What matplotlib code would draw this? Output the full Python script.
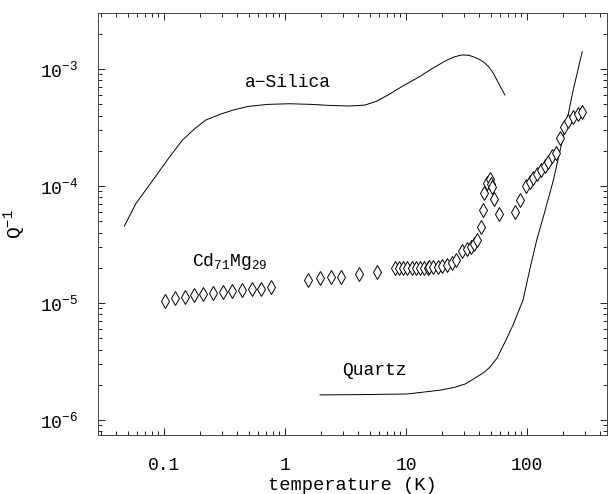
import matplotlib
matplotlib.use('Agg')
import matplotlib.pyplot as plt
from matplotlib.ticker import LogLocator, NullFormatter

# ---- data ----
silica_T = [0.047, 0.0587, 0.0848, 0.11, 0.142, 0.18, 0.221, 0.29, 0.372, 0.5, 0.724,
            1.1, 1.63, 2.4, 3.41, 4.58, 5.7, 7.10, 9.5, 12.9, 17.0, 21.7, 25.0, 29.0,
            33.0, 36.3, 40.9, 45.0, 48.8, 52.7, 58.0, 65.6]
silica_Q = [4.55e-5, 7.11e-5, 1.20e-4, 1.75e-4, 2.47e-4, 3.1e-4, 3.66e-4, 4.1e-4, 4.46e-4,
            4.8e-4, 4.99e-4, 5.05e-4, 4.99e-4, 4.88e-4, 4.83e-4, 4.92e-4, 5.3e-4, 6.0e-4,
            7.2e-4, 8.6e-4, 1.03e-3, 1.19e-3, 1.27e-3, 1.32e-3, 1.31e-3, 1.27e-3, 1.20e-3,
            1.12e-3, 1.03e-3, 9.2e-4, 7.6e-4, 6.0e-4]

quartz_T = [1.95, 4.17, 10.2, 19.1, 25.0, 30.7, 35.0, 40.9, 45.0, 49.5, 56.5, 65.8, 76.6,
            92.7, 105, 120.2, 140, 165, 185, 206, 240, 286]
quartz_Q = [1.64e-6, 1.65e-6, 1.67e-6, 1.80e-6, 1.9e-6, 2.03e-6, 2.2e-6, 2.43e-6, 2.6e-6,
            2.84e-6, 3.39e-6, 4.65e-6, 6.49e-6, 1.06e-5, 1.9e-5, 3.45e-5, 6.0e-5, 1.12e-4,
            1.9e-4, 3.01e-4, 6.5e-4, 1.41e-3]

cdmg_T = [0.102, 0.123, 0.148, 0.178, 0.210, 0.254, 0.305, 0.366, 0.441, 0.531, 0.638, 0.767,
          1.55, 1.93, 2.41, 2.90, 4.05, 5.81,
          8.11, 8.80, 9.50, 10.26, 11.15, 12.03, 13.05, 14.16, 15.28, 15.5, 16.62, 18.28, 19.95,
          21.95, 23.86, 25.88, 29.2, 31.7, 34.5, 36.7, 38.4, 41.7, 43.0, 44.4, 46.4, 49.5, 50.4,
          51.7, 53.7, 59.0,
          79.6, 87.6, 97.5, 104.9, 112.8, 120.9, 130.5, 139.6, 150.1, 161.9, 172.7, 187.5, 202.2,
          219.4, 241.3, 263.8, 285]
cdmg_Q = [1.05e-5, 1.10e-5, 1.13e-5, 1.17e-5, 1.19e-5, 1.22e-5, 1.25e-5, 1.27e-5, 1.29e-5, 1.31e-5,
          1.32e-5, 1.36e-5,
          1.57e-5, 1.63e-5, 1.66e-5, 1.68e-5, 1.76e-5, 1.85e-5,
          1.98e-5, 1.98e-5, 1.98e-5, 1.98e-5, 1.98e-5, 1.99e-5, 1.99e-5, 2.00e-5, 2.00e-5, 2.02e-5,
          2.02e-5, 2.03e-5, 2.07e-5, 2.12e-5, 2.21e-5, 2.33e-5, 2.80e-5, 2.91e-5, 3.03e-5, 3.19e-5,
          3.45e-5, 4.49e-5, 6.24e-5, 8.67e-5, 1.07e-4, 1.14e-4, 1.05e-4, 9.86e-5, 7.69e-5, 5.73e-5,
          6.0e-5, 7.67e-5, 1.0e-4, 1.08e-4, 1.17e-4, 1.27e-4, 1.37e-4, 1.48e-4, 1.62e-4, 1.79e-4,
          1.93e-4, 2.57e-4, 3.19e-4, 3.6e-4, 3.89e-4, 4.12e-4, 4.3e-4]

x_ticks = [0.1, 1, 10, 100]
x_tick_labels = ['0.1', '1', '10', '100']
y_ticks = [1e-6, 1e-5, 1e-4, 1e-3]
y_tick_labels = [r'$10^{-6}$', r'$10^{-5}$', r'$10^{-4}$', r'$10^{-3}$']

plt.rcParams.update({
    'font.family': ['Liberation Mono', 'DejaVu Sans Mono'],
    'mathtext.fontset': 'custom',
    'mathtext.rm': 'Liberation Mono',
    'mathtext.it': 'Liberation Mono:italic',
    'mathtext.bf': 'Liberation Mono:bold',
})

fig = plt.figure(figsize=(6.09, 4.94), dpi=100)
ax = fig.add_axes([0.1604, 0.1194, 0.8363, 0.8549])
ax.set_xscale('log')
ax.set_yscale('log')
ax.set_xlim(0.0283, 458)
ax.set_ylim(7.45e-7, 3.03e-3)

ax.plot(silica_T, silica_Q, color='black', lw=0.7)
ax.plot(quartz_T, quartz_Q, color='black', lw=0.7)
ax.plot(cdmg_T, cdmg_Q, linestyle='none', marker='d', ms=7, mfc='white',
        mec='black', mew=0.7)

ax.text(1.06, 7.6e-4, 'a\u2212Silica', ha='center', va='center', fontsize=13)
ax.text(5.52, 2.67e-6, 'Quartz', ha='center', va='center', fontsize=13)
ax.text(0.348, 2.25e-5, r'Cd$_{71}$Mg$_{29}$', ha='center', va='center', fontsize=13)

ax.set_xticks(x_ticks)
ax.set_xticklabels(x_tick_labels)
ax.set_yticks(y_ticks)
ax.set_yticklabels(y_tick_labels)
ax.xaxis.set_minor_locator(LogLocator(base=10, subs=range(2, 10), numticks=20))
ax.yaxis.set_minor_locator(LogLocator(base=10, subs=range(2, 10), numticks=20))
ax.xaxis.set_minor_formatter(NullFormatter())
ax.yaxis.set_minor_formatter(NullFormatter())

ax.tick_params(which='both', direction='in', top=True, right=True, width=0.7, colors='#222222')
ax.tick_params(which='major', length=5)
ax.tick_params(which='minor', length=3)
ax.tick_params(axis='x', which='major', pad=16, labelsize=13, labelcolor='black')
ax.tick_params(axis='y', which='major', pad=14, labelsize=13, labelcolor='black')

for s in ax.spines.values():
    s.set_linewidth(0.7)
    s.set_color('#444444')

ax.set_xlabel('temperature (K)', fontsize=13.5, va='center')
ax.xaxis.set_label_coords(0.5, -0.12)
ax.set_ylabel(r'Q$^{-1}$', fontsize=14, va='center')
ax.yaxis.set_label_coords(-0.162, 0.5)

fig.savefig('out.png', dpi=100)
